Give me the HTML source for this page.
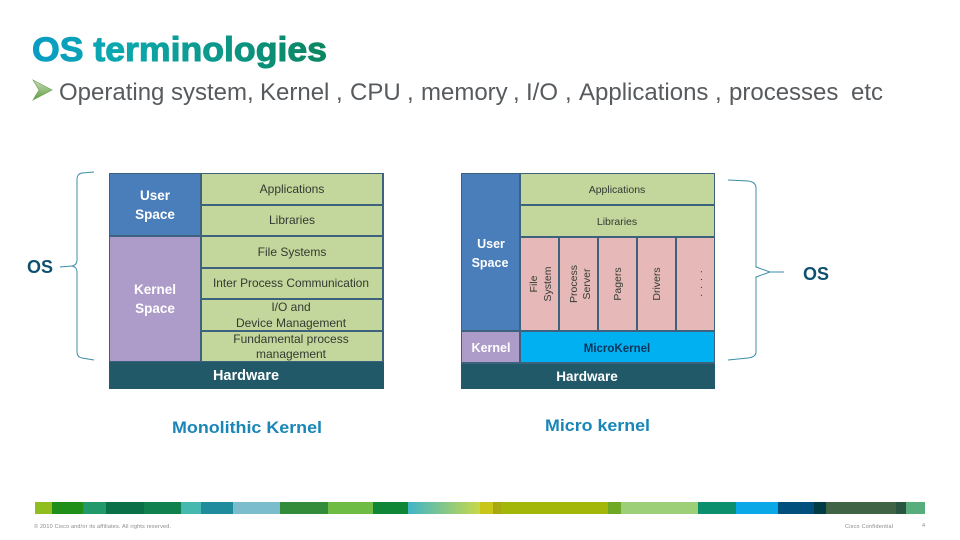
<!DOCTYPE html>
<html><head><meta charset="utf-8"><style>html,body{margin:0;padding:0;background:#fff}svg{display:block}text{font-family:"Liberation Sans",sans-serif}</style></head><body>
<svg width="960" height="540" viewBox="0 0 960 540" xmlns="http://www.w3.org/2000/svg">
<defs>
<linearGradient id="t" x1="0" y1="0" x2="1" y2="0"><stop offset="0" stop-color="#0a9cc4"/><stop offset=".3" stop-color="#0ca8ae"/><stop offset="1" stop-color="#0b8560"/></linearGradient>
<linearGradient id="a" x1="0" y1="0" x2="0" y2="1"><stop offset="0" stop-color="#c8dcc0"/><stop offset="1" stop-color="#5f9e3a"/></linearGradient>
<linearGradient id="f" x1="0" y1="0" x2="1" y2="0"><stop offset="0" stop-color="#3fb5c8"/><stop offset="1" stop-color="#c8d84a"/></linearGradient>
<filter id="b" x="-5%" y="-5%" width="110%" height="110%"><feGaussianBlur stdDeviation="0.35"/></filter>
</defs>
<text x="32" y="61" font-size="34" font-weight="bold" fill="url(#t)" stroke="url(#t)" stroke-width="1" textLength="295" lengthAdjust="spacingAndGlyphs">OS terminologies</text>
<polygon points="33,80 52,90 33,100 39,90" fill="url(#a)" stroke="#6fa055" stroke-width=".7"/>
<g font-size="24" fill="#575b5e">
<text x="59" y="100">Operating</text><text x="171" y="100">system,</text><text x="260" y="100">Kernel</text><text x="336" y="100">,</text><text x="350" y="100">CPU</text><text x="407" y="100">,</text><text x="421" y="100">memory</text><text x="513" y="100">,</text><text x="526" y="100">I/O</text><text x="565" y="100">,</text><text x="579" y="100">Applications</text><text x="715" y="100">,</text><text x="729" y="100">processes</text><text x="851" y="100">etc</text>
</g>

<g id="left">
<rect x="109" y="173" width="275" height="216" fill="#3c627e"/>
<rect x="110" y="174" width="90" height="61" fill="#4a7ebb"/>
<rect x="110" y="237" width="90" height="124" fill="#ad9bc9"/>
<g fill="#c3d69b">
<rect x="202" y="174" width="180" height="30"/><rect x="202" y="206" width="180" height="29"/><rect x="202" y="237" width="180" height="30"/><rect x="202" y="269" width="180" height="29"/><rect x="202" y="300" width="180" height="30"/><rect x="202" y="332" width="180" height="29"/>
</g>
<rect x="109" y="362" width="275" height="27" fill="#215968"/>
<g filter="url(#b)">
<g fill="#fff" font-size="13.5" font-weight="bold" text-anchor="middle">
<text x="155" y="200">User</text><text x="155" y="219">Space</text><text x="155" y="294">Kernel</text><text x="155" y="313">Space</text>
<text x="246" y="380" font-size="14.5">Hardware</text>
</g>
<g fill="#333b33" font-size="12" text-anchor="middle">
<text x="292" y="193" font-size="12">Applications</text><text x="292" y="224">Libraries</text><text x="292" y="256">File Systems</text><text x="291" y="287" textLength="156" lengthAdjust="spacingAndGlyphs">Inter Process Communication</text><text x="291" y="311">I/O and</text><text x="291" y="327">Device Management</text><text x="291" y="343">Fundamental process</text><text x="291" y="358">management</text>
</g>
</g>
</g>

<g id="right">
<rect x="461" y="173" width="254" height="216" fill="#3c627e"/>
<rect x="462" y="174" width="57" height="156" fill="#4a7ebb"/>
<rect x="462" y="332" width="57" height="30" fill="#ad9bc9"/>
<g fill="#c3d69b"><rect x="521" y="174" width="193" height="30"/><rect x="521" y="206" width="193" height="30"/></g>
<g fill="#e6b9b8"><rect x="521" y="238" width="37" height="92"/><rect x="560" y="238" width="37" height="92"/><rect x="599" y="238" width="37" height="92"/><rect x="638" y="238" width="37" height="92"/><rect x="677" y="238" width="37" height="92"/></g>
<rect x="521" y="332" width="193" height="30" fill="#00b0f0"/>
<rect x="461" y="364" width="254" height="25" fill="#215968"/>
<g filter="url(#b)">
<g fill="#fff" font-size="12.5" font-weight="bold" text-anchor="middle">
<text x="491" y="248">User</text><text x="490" y="267">Space</text><text x="491" y="352">Kernel</text><text x="587" y="381" font-size="13.5">Hardware</text>
</g>
<text x="617" y="352" font-size="11.5" font-weight="bold" fill="#10355a" text-anchor="middle">MicroKernel</text>
<g fill="#333b33" font-size="10.5" text-anchor="middle">
<text x="617" y="193">Applications</text><text x="617" y="225">Libraries</text>
<text transform="translate(537,284) rotate(-90)">File</text>
<text transform="translate(551,284) rotate(-90)">System</text>
<text transform="translate(577,284) rotate(-90)">Process</text>
<text transform="translate(590,284) rotate(-90)">Server</text>
<text transform="translate(621,284) rotate(-90)">Pagers</text>
<text transform="translate(660,284) rotate(-90)">Drivers</text>
<text transform="translate(702,283) rotate(-90)" letter-spacing="1">. . . .</text>
</g>
</g>
</g>

<g fill="none" stroke="#3b8ea5" stroke-width="1">
<path d="M94,172 L82,173 Q77,174 77,179 L77,260 Q77,265 72,266 L60,267 M72,266 Q77,267 77,272 L77,352 Q77,357 82,358 L94,360"/>
<path d="M728,180 L748,181 Q756,182 756,188 L756,267 L770,272 L784,272 M770,272 L756,277 L756,352 Q756,357 748,358 L728,360"/>
</g>
<text x="27" y="273" font-size="18" font-weight="bold" fill="#10506f">OS</text>
<text x="803" y="280" font-size="18" font-weight="bold" fill="#10506f">OS</text>
<text x="172" y="433" font-size="17" font-weight="bold" fill="#1a86b8" textLength="150" lengthAdjust="spacingAndGlyphs">Monolithic Kernel</text>
<text x="545" y="431" font-size="17" font-weight="bold" fill="#1a86b8" textLength="105" lengthAdjust="spacingAndGlyphs">Micro kernel</text>

<g id="bar">
<rect x="35" y="502" width="17" height="12" fill="#8fbe1e"/><rect x="52" y="502" width="31" height="12" fill="#1f8f1a"/><rect x="83" y="502" width="23" height="12" fill="#22996a"/><rect x="106" y="502" width="38" height="12" fill="#0a7048"/><rect x="144" y="502" width="37" height="12" fill="#10804f"/><rect x="181" y="502" width="20" height="12" fill="#45b8b0"/><rect x="201" y="502" width="32" height="12" fill="#1f8b9c"/><rect x="233" y="502" width="47" height="12" fill="#7bbccd"/><rect x="280" y="502" width="48" height="12" fill="#338c3a"/><rect x="328" y="502" width="45" height="12" fill="#6fbc44"/><rect x="373" y="502" width="35" height="12" fill="#0f8536"/><rect x="408" y="502" width="72" height="12" fill="url(#f)"/><rect x="480" y="502" width="13" height="12" fill="#c9c61a"/><rect x="493" y="502" width="8" height="12" fill="#a8a810"/><rect x="501" y="502" width="107" height="12" fill="#a3b70b"/><rect x="608" y="502" width="13" height="12" fill="#6fa824"/><rect x="621" y="502" width="77" height="12" fill="#9ccf78"/><rect x="698" y="502" width="38" height="12" fill="#0b8f6c"/><rect x="736" y="502" width="42" height="12" fill="#0aa8e6"/><rect x="778" y="502" width="36" height="12" fill="#014f7c"/><rect x="814" y="502" width="12" height="12" fill="#013c44"/><rect x="826" y="502" width="70" height="12" fill="#3f6344"/><rect x="896" y="502" width="10" height="12" fill="#2a5540"/><rect x="906" y="502" width="19" height="12" fill="#58ad7d"/>
</g>
<g font-size="5.5" fill="#8a8a8a">
<text x="34" y="528" textLength="137">© 2010 Cisco and/or its affiliates. All rights reserved.</text>
<text x="845" y="528" textLength="48">Cisco Confidential</text>
<text x="922" y="527">4</text>
</g>
</svg>
</body></html>
